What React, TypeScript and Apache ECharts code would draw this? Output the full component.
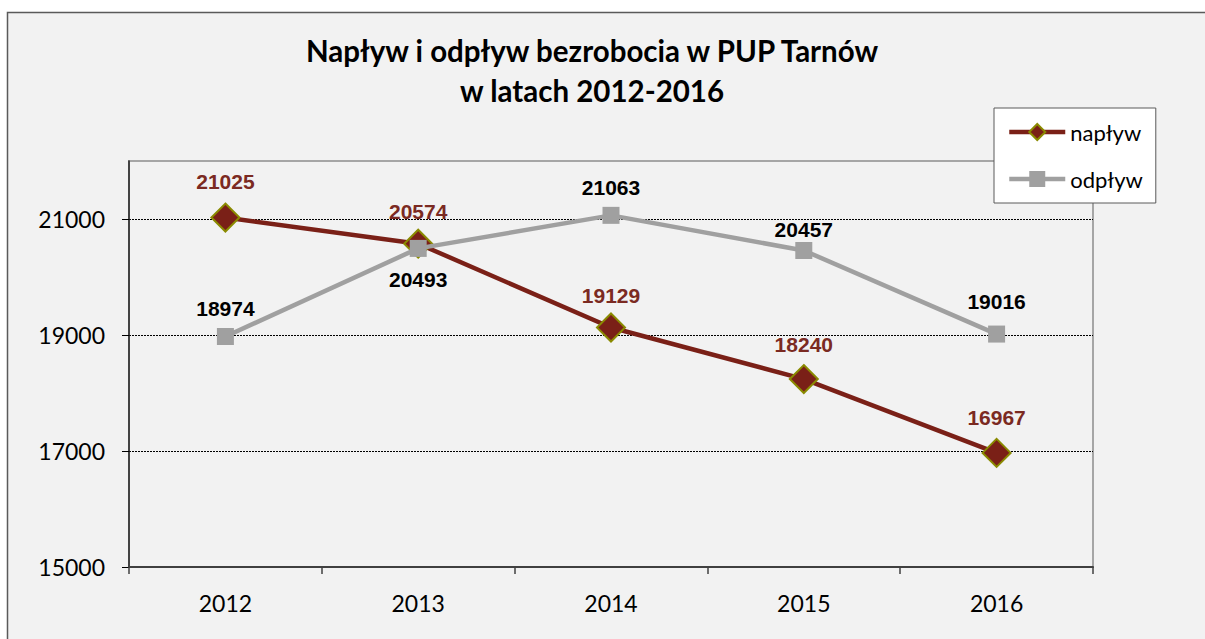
import React, { useEffect, useRef } from "react";
import * as echarts from "echarts";

const years = ["2012", "2013", "2014", "2015", "2016"];
const naplyw = [21025, 20574, 19129, 18240, 16967];
const odplyw = [18974, 20493, 21063, 20457, 19016];
const yTickValues = [15000, 17000, 19000, 21000];

// label placement per point (style config, not data)
const naplywLabelDist = [11, 7, 7, 9, 10];
const odplywLabelPos = ["top", "bottom", "top", "top", "top"];
const odplywLabelDist = [9, 12, 9, 2, 14];

const RED = "#7a2017";
const GRAY = "#a0a0a0";
const FONT = "Lato, 'Open Sans', sans-serif";

export default function App() {
  const ref = useRef<HTMLDivElement>(null);
  useEffect(() => {
    if (!ref.current) return;
    const chart = echarts.init(ref.current, undefined, { renderer: "svg" });
    chart.setOption({
      animation: false,
      backgroundColor: "#ffffff",
      graphic: [
        {
          type: "rect",
          z: -10,
          silent: true,
          shape: { x: 7.5, y: 12.5, width: 1260, height: 700 },
          style: { fill: "#f2f2f2", stroke: "#5a5a5a", lineWidth: 1.5 },
        },
      ],
      title: {
        text: "Napływ i odpływ bezrobocia w PUP Tarnów\nw latach 2012-2016",
        left: 587,
        top: 25,
        textAlign: "center",
        textStyle: {
          fontFamily: FONT,
          fontWeight: "bold",
          fontSize: 29.5,
          lineHeight: 40,
          color: "#000",
        },
      },
      legend: {
        left: 994,
        top: 108,
        orient: "vertical",
        backgroundColor: "#ffffff",
        borderColor: "#5a5a5a",
        borderWidth: 1,
        padding: [13, 13, 13, 13],
        itemWidth: 56,
        itemHeight: 20,
        itemGap: 25,
        lineStyle: { width: 4.5 },
        textStyle: { fontFamily: FONT, fontSize: 22, color: "#000" },
        data: ["napływ", "odpływ"],
      },
      grid: {
        left: 129,
        right: 112,
        top: 161,
        bottom: 72,
        show: true,
        borderColor: "#a6a6a6",
        borderWidth: 2,
        backgroundColor: "transparent",
      },
      xAxis: {
        type: "category",
        data: years,
        boundaryGap: true,
        axisLine: { show: true, lineStyle: { color: "#404040", width: 2 } },
        axisTick: { show: true, length: 7, lineStyle: { color: "#404040", width: 1.5 } },
        axisLabel: { fontFamily: FONT, fontSize: 23, color: "#000", margin: 24 },
        splitLine: { show: false },
      },
      yAxis: {
        type: "value",
        min: 15000,
        max: 22000,
        axisLine: { show: true, lineStyle: { color: "#222", width: 1.5 } },
        axisTick: {
          show: true,
          length: 7,
          customValues: yTickValues,
          lineStyle: { color: "#000", width: 1 },
        },
        axisLabel: {
          customValues: yTickValues,
          formatter: (v: number) => String(v),
          fontFamily: FONT,
          fontSize: 23,
          color: "#000",
          margin: 24,
        },
        splitLine: {
          show: true,
          lineStyle: { color: "#000", width: 1, type: [2, 1] },
        },
      },
      series: [
        {
          name: "napływ",
          type: "line",
          data: naplyw.map((v, i) => ({
            value: v,
            label: { distance: naplywLabelDist[i] },
          })),
          lineStyle: { color: RED, width: 4.5 },
          itemStyle: { color: RED, borderColor: "#8a8a00", borderWidth: 2 },
          symbol: "diamond",
          symbolSize: 28,
          z: 3,
          label: {
            show: true,
            position: "top",
            fontFamily: "'Liberation Sans', Arial, sans-serif",
            fontWeight: "bold",
            fontSize: 21,
            color: "#7b2a22",
          },
        },
        {
          name: "odpływ",
          type: "line",
          data: odplyw.map((v, i) => ({
            value: v,
            label: { position: odplywLabelPos[i], distance: odplywLabelDist[i] },
          })),
          lineStyle: { color: GRAY, width: 4.5 },
          itemStyle: { color: GRAY },
          symbol: "rect",
          symbolSize: 17,
          z: 4,
          label: {
            show: true,
            position: "top",
            fontFamily: "'Liberation Sans', Arial, sans-serif",
            fontWeight: "bold",
            fontSize: 21,
            color: "#000",
          },
        },
      ],
    });
    return () => chart.dispose();
  }, []);
  return (
    <div
      ref={ref}
      style={{ position: "absolute", left: 0, top: 0, width: 1205, height: 639 }}
    />
  );
}
